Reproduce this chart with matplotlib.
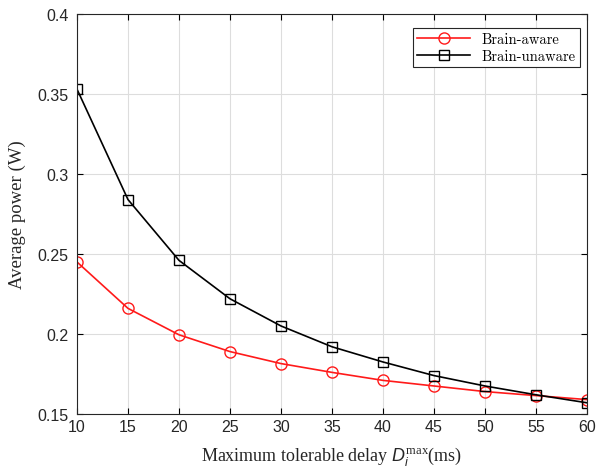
import numpy as np
import matplotlib
matplotlib.use('Agg')
import matplotlib.pyplot as plt

# data
delay_ms = [10, 15, 20, 25, 30, 35, 40, 45, 50, 55, 60]
brain_aware = [0.245, 0.216, 0.1995, 0.189, 0.1815, 0.176, 0.171, 0.1675, 0.164, 0.1615, 0.159]
brain_unaware = [0.353, 0.284, 0.246, 0.222, 0.205, 0.192, 0.1825, 0.174, 0.1675, 0.162, 0.157]

plt.rcParams['mathtext.fontset'] = 'custom'
plt.rcParams['mathtext.it'] = 'Liberation Sans:italic'
plt.rcParams['mathtext.rm'] = 'Liberation Serif'

fig = plt.figure(figsize=(6.16, 4.77), dpi=100)
ax = fig.add_axes([0.125, 0.130, 0.828, 0.8386])

ax.plot(delay_ms, brain_aware, '-o', color='#ff1a1a', lw=1.2, ms=8,
        mfc='none', mew=1.0, label='Brain-aware')
ax.plot(delay_ms, brain_unaware, '-s', color='k', lw=1.2, ms=7,
        mfc='none', mew=1.0, label='Brain-unaware')

ax.set_xlim(10, 60)
ax.set_ylim(0.15, 0.4)
ax.set_xticks(np.arange(10, 61, 5))
ax.set_yticks([0.15, 0.2, 0.25, 0.3, 0.35, 0.4])
ax.set_yticklabels(['0.15', '0.2', '0.25', '0.3', '0.35', '0.4'])
ax.grid(True, color='#dddddd', lw=0.8)
ax.set_axisbelow(True)
ax.tick_params(direction='in', length=4, labelsize=11.5, top=True, right=True,
               labeltop=False, labelright=False)
ax.tick_params(axis='y', pad=6)
for lab in ax.get_xticklabels() + ax.get_yticklabels():
    lab.set_family('Liberation Sans')
    lab.set_color('#262626')
for sp in ax.spines.values():
    sp.set_color('#262626')
    sp.set_linewidth(0.8)

ax.set_xlabel(r'Maximum tolerable delay $D_i^{\mathrm{max}}$(ms)',
              family='Liberation Serif', fontsize=13, color='#262626',
              labelpad=8)
ax.set_ylabel('Average power (W)', family='Liberation Serif', fontsize=13.5,
              color='#262626', labelpad=8)

leg = ax.legend(loc='upper right', bbox_to_anchor=(0.986, 0.965),
                prop={'family': 'cmr10', 'size': 10.5}, fancybox=False,
                edgecolor='#262626', framealpha=1, handlelength=3.6,
                borderpad=0.3, labelspacing=0.2, borderaxespad=0)
leg.get_frame().set_linewidth(0.8)

fig.savefig('out.png', dpi=100)
